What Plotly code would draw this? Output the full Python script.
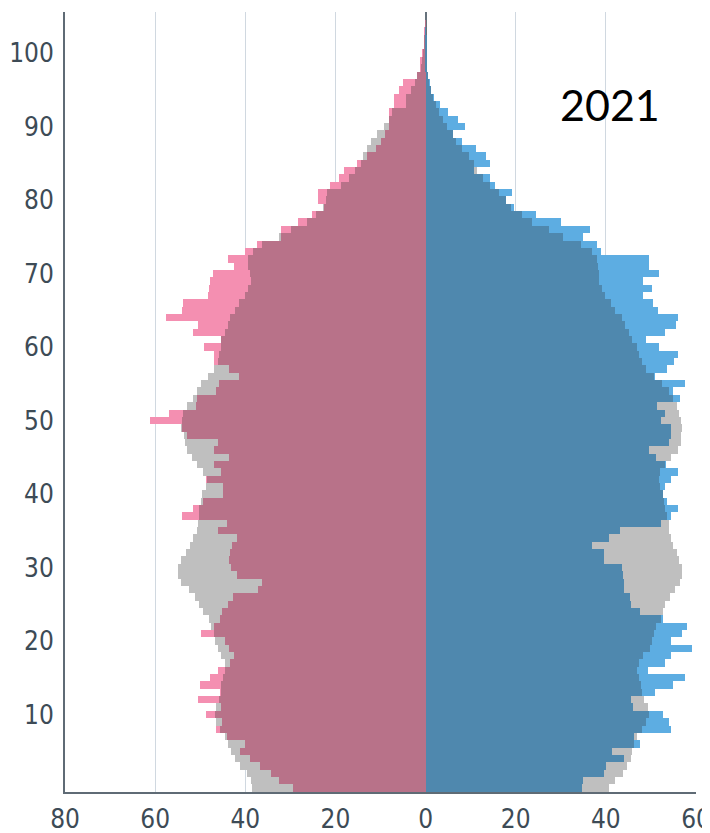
import numpy as np
import plotly.graph_objects as go

ages = list(range(0, 105))

# Female, 2021 (current) and reference year (grey)
female_2021 = [29.5, 32.6, 34.4, 36.7, 38.9, 41.1, 40.0, 44.1, 46.5, 45.2,
               48.7, 45.3, 50.4, 45.6, 50.1, 47.8, 46.1, 43.3, 42.6, 43.6,
               44.4, 49.8, 47.0, 45.6, 45.2, 43.9, 42.8, 37.2, 36.4, 41.9,
               43.1, 43.7, 43.5, 43.0, 41.9, 46.1, 44.1, 54.1, 51.5, 49.3,
               45.0, 45.0, 48.7, 45.4, 47.0, 43.6, 47.0, 46.1, 53.0, 54.0,
               61.1, 57.0, 51.0, 50.7, 46.5, 45.9, 41.3, 43.6, 47.0, 47.0,
               49.2, 45.5, 51.5, 50.4, 57.6, 54.1, 53.9, 48.3, 48.1, 47.8,
               47.2, 42.4, 43.9, 40.1, 37.4, 32.0, 32.1, 28.4, 25.2, 22.6,
               23.9, 23.9, 21.1, 19.1, 18.0, 15.2, 13.0, 11.1, 9.8, 8.9,
               8.1, 8.2, 8.1, 7.0, 7.0, 5.9, 5.0, 2.0, 1.3, 1.3,
               0.9, 0.4, 0.3, 0.2, 0.1]
female_ref = [38.5, 38.7, 39.6, 41.1, 42.2, 43.1, 43.9, 44.6, 45.6, 46.5,
              46.8, 46.5, 45.9, 45.4, 45.3, 45.0, 44.6, 44.6, 45.3, 46.1,
              46.7, 47.0, 47.6, 48.1, 49.3, 50.2, 51.1, 52.6, 54.2, 55.0,
              55.0, 54.2, 53.1, 52.2, 51.5, 50.7, 50.5, 50.2, 50.2, 49.8,
              49.5, 48.7, 48.6, 49.3, 50.7, 51.9, 53.0, 53.3, 53.7, 54.2,
              54.1, 53.9, 52.9, 51.7, 50.7, 49.8, 48.3, 47.0, 46.1, 45.8,
              45.5, 45.3, 44.6, 43.9, 43.3, 42.2, 41.5, 40.0, 39.4, 38.7,
              38.9, 39.3, 39.4, 38.4, 36.4, 32.6, 29.8, 26.3, 24.4, 22.8,
              22.2, 21.9, 18.7, 17.0, 15.7, 14.4, 13.9, 13.0, 12.0, 10.7,
              9.2, 8.1, 7.5, 4.4, 4.4, 3.3, 2.4, 1.8, 1.1, 0.9,
              0.6, 0.3, 0.2, 0.1, 0.1]

# Male, 2021 (current) and reference year (grey)
male_2021 = [34.7, 35.0, 39.6, 40.0, 44.1, 41.3, 47.6, 46.3, 54.4, 54.1,
             52.7, 46.1, 45.6, 51.0, 55.0, 57.6, 49.3, 53.2, 54.4, 59.1,
             54.4, 56.9, 57.9, 52.7, 47.6, 45.6, 45.3, 44.1, 44.1, 43.7,
             43.6, 39.6, 39.6, 37.0, 40.6, 43.1, 52.2, 54.4, 55.9, 53.5,
             52.7, 53.2, 54.4, 55.9, 53.3, 51.1, 49.6, 53.9, 54.4, 54.4,
             52.2, 53.2, 51.3, 56.4, 54.8, 57.6, 50.9, 53.5, 55.2, 55.9,
             51.9, 49.0, 53.2, 55.6, 56.1, 51.5, 50.5, 48.3, 50.2, 48.3,
             51.9, 49.6, 49.6, 39.0, 38.1, 35.0, 36.4, 30.0, 24.6, 19.6,
             17.9, 19.1, 15.4, 14.4, 10.7, 14.4, 13.3, 11.1, 8.0, 6.1,
             8.7, 7.3, 5.0, 3.3, 1.9, 1.3, 0.9, 0.6, 0.4, 0.4,
             0.3, 0.2, 0.1, 0.05, 0.0]
male_ref = [40.7, 42.1, 43.7, 44.8, 45.6, 45.8, 46.3, 46.8, 48.1, 49.0,
            49.5, 49.3, 48.5, 48.1, 47.8, 47.4, 47.0, 47.3, 48.3, 49.8,
            50.2, 50.7, 51.1, 52.2, 52.7, 53.2, 54.2, 55.4, 56.4, 56.9,
            57.0, 56.3, 55.7, 55.0, 54.4, 53.9, 53.9, 53.5, 53.2, 53.0,
            52.6, 52.0, 51.7, 52.0, 53.2, 54.4, 55.9, 56.7, 56.7, 56.9,
            56.7, 56.3, 55.7, 54.8, 54.1, 52.4, 50.7, 49.0, 48.1, 47.4,
            46.8, 45.9, 45.2, 44.3, 43.5, 42.1, 41.1, 39.9, 39.1, 38.5,
            38.4, 38.3, 38.1, 36.9, 34.4, 30.4, 27.3, 23.7, 21.3, 18.9,
            17.8, 16.2, 14.4, 12.7, 11.3, 10.7, 9.6, 8.0, 6.7, 6.0,
            4.8, 3.9, 3.0, 2.4, 1.6, 1.1, 0.8, 0.5, 0.4, 0.3,
            0.2, 0.1, 0.1, 0.05, 0.0]

x_tickvals = [-80, -60, -40, -20, 0, 20, 40, 60]
x_ticktext = ["80", "60", "40", "20", "0", "20", "40", "60"]
y_tickvals = [10, 20, 30, 40, 50, 60, 70, 80, 90, 100]
year_label = "2021"

GREY = "#BFBFBF"
F_LIGHT = "#F48FB1"
F_DARK = "#B87289"
M_LIGHT = "#5DADE2"
M_DARK = "#4F88AE"

f_cur = np.array(female_2021)
f_ref = np.array(female_ref)
m_cur = np.array(male_2021)
m_ref = np.array(male_ref)
f_overlap = np.minimum(f_cur, f_ref)
m_overlap = np.minimum(m_cur, m_ref)

fig = go.Figure()


def add_bar(values, color, sign):
    fig.add_trace(go.Bar(
        y=ages, x=sign * values, orientation="h",
        marker=dict(color=color, line=dict(width=0)),
        width=1.0, hoverinfo="skip", showlegend=False,
    ))


add_bar(f_ref, GREY, -1)
add_bar(f_cur, F_LIGHT, -1)
add_bar(f_overlap, F_DARK, -1)
add_bar(m_ref, GREY, 1)
add_bar(m_cur, M_LIGHT, 1)
add_bar(m_overlap, M_DARK, 1)

tick_font = dict(family="DejaVu Sans Condensed, Liberation Sans Narrow, sans-serif",
                 size=26, color="#3d4b56")

# page body has an 8px default margin, so the figure is 8px smaller
fig.update_layout(
    width=702, height=825,
    margin=dict(l=57, r=14, t=4, b=41, autoexpand=False),
    paper_bgcolor="white", plot_bgcolor="white",
    barmode="overlay", bargap=0,
    showlegend=False,
    xaxis=dict(
        range=[-80, 60], tickvals=x_tickvals, ticktext=x_ticktext,
        showgrid=True, gridcolor="#d0d8e0", gridwidth=1,
        zeroline=True, zerolinecolor="#66727c", zerolinewidth=1.5,
        showline=True, linecolor="#5f6b75", linewidth=2,
        ticks="", tickfont=tick_font, ticklabelstandoff=3,
        ticklabeloverflow="allow",
        automargin=False, fixedrange=True,
    ),
    yaxis=dict(
        range=[-0.55, 105.6], tickvals=y_tickvals,
        showgrid=False, zeroline=False,
        showline=True, linecolor="#5f6b75", linewidth=2,
        ticks="", tickfont=tick_font, ticklabelstandoff=4,
        ticklabeloverflow="allow",
        automargin=False, fixedrange=True,
    ),
    annotations=[dict(
        x=0.864, y=0.881, xref="paper", yref="paper",
        text=year_label, showarrow=False,
        font=dict(family="Lato, Carlito, sans-serif", size=43, color="black"),
        xanchor="center", yanchor="middle",
    )],
)

fig.write_html("out.html")
